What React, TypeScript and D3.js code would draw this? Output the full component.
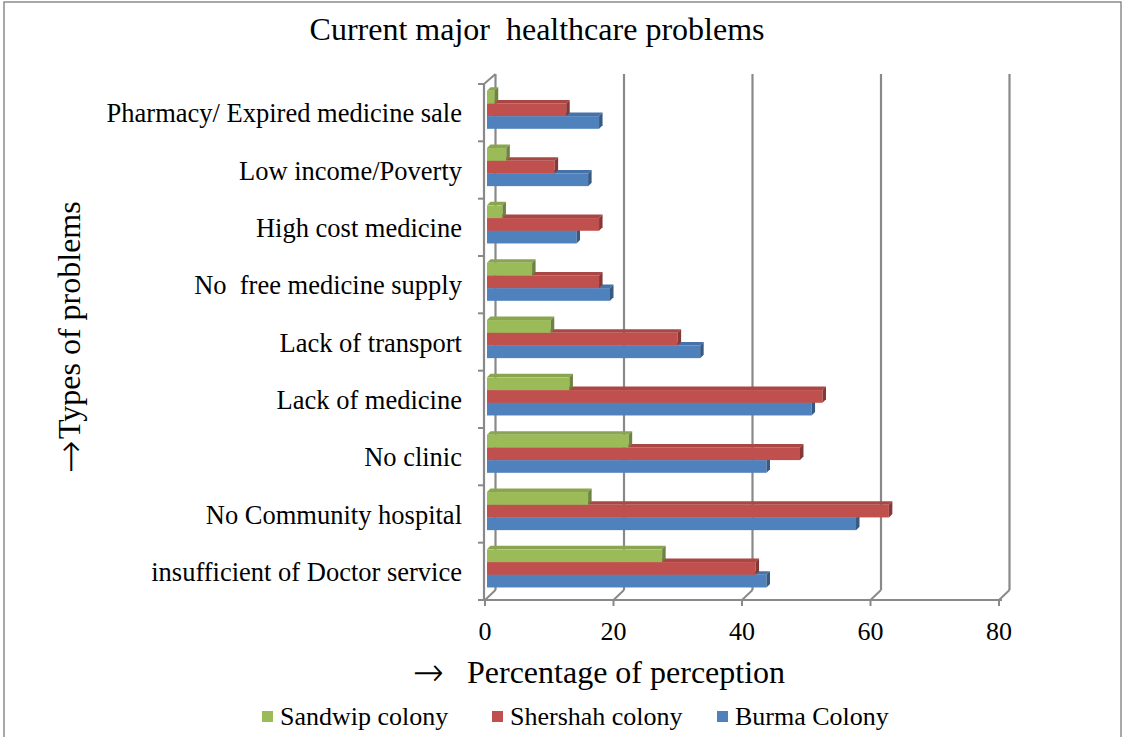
import React from "react";
import * as d3 from "d3";

const categories = [
  "Pharmacy/ Expired medicine sale",
  "Low income/Poverty",
  "High cost medicine",
  "No  free medicine supply",
  "Lack of transport",
  "Lack of medicine",
  "No clinic",
  "No Community hospital",
  "insufficient of Doctor service",
];
const seriesNames = ["Sandwip colony", "Shershah colony", "Burma Colony"];
const sandwip = [1.2, 3.0, 2.4, 7.0, 9.9, 12.8, 22.0, 15.7, 27.2];
const shershah = [12.3, 10.5, 17.4, 17.4, 29.6, 52.1, 48.6, 62.4, 41.7];
const burma = [17.4, 15.7, 13.9, 19.1, 33.1, 50.4, 43.4, 57.3, 43.4];
const seriesColors = ["#9BBB59", "#C0504D", "#4F81BD"];
const xTicks = [0, 20, 40, 60, 80];

const FONT = "'Liberation Serif', 'Times New Roman', serif";
const ARROW_FONT = "'DejaVu Sans', sans-serif";

export default function App() {
  const series = [sandwip, shershah, burma];
  const top = 84;
  const bottom = 600;
  const depthX = 10.5;
  const depthY = 10;
  const xFront = d3.scaleLinear().domain([0, 80]).range([485, 999]);
  const xBar = d3.scaleLinear().domain([0, 80]).range([487, 487 + 80 * 6.44]);
  const y = d3.scaleBand<string>().domain(categories).range([top, bottom]).padding(0);
  const bw = y.bandwidth();
  const barH = 12.7;
  const groupOff = 6.7;
  const d = 3.5;
  const grid = "#898989";

  const bars: React.ReactNode[] = [];
  categories.forEach((c, ci) => {
    const band = y(c) as number;
    for (let si = series.length - 1; si >= 0; si--) {
      const v = series[si][ci];
      const y0 = band + groupOff + si * barH;
      const x0 = xBar(0);
      const x1 = xBar(v);
      const col = d3.color(seriesColors[si])!;
      const topCol = col.darker(0.35).formatHex();
      const sideCol = col.darker(1.0).formatHex();
      bars.push(
        <g key={`${ci}-${si}`}>
          <polygon
            points={`${x0},${y0} ${x0 + d},${y0 - d} ${x1 + d},${y0 - d} ${x1},${y0}`}
            fill={topCol}
          />
          <rect x={x0} y={y0} width={x1 - x0} height={barH} fill={seriesColors[si]} />
          <polygon
            points={`${x1},${y0} ${x1 + d},${y0 - d} ${x1 + d},${y0 + barH - d} ${x1},${y0 + barH}`}
            fill={sideCol}
          />
        </g>
      );
    }
  });

  const legendX = [262, 492, 717];

  return (
    <svg
      width={1126}
      height={737}
      style={{ position: "absolute", left: 0, top: 0, background: "#fff" }}
    >
      <rect x={4} y={2} width={1117} height={745} fill="#fff" stroke="#8c8c8c" strokeWidth={1.5} />
      <text
        x={537}
        y={40}
        textAnchor="middle"
        fontFamily={FONT}
        fontSize={32}
        style={{ whiteSpace: "pre" }}
      >
        {"Current major  healthcare problems"}
      </text>

      {xTicks.map((t) => (
        <g key={t}>
          <line
            x1={xFront(t) + depthX}
            x2={xFront(t) + depthX}
            y1={top - depthY}
            y2={bottom - depthY}
            stroke={grid}
            strokeWidth={2.2}
          />
          <line
            x1={xFront(t)}
            y1={bottom}
            x2={xFront(t) + depthX}
            y2={bottom - depthY}
            stroke={grid}
            strokeWidth={2}
          />
          <line x1={xFront(t)} x2={xFront(t)} y1={bottom} y2={bottom + 6} stroke={grid} strokeWidth={2} />
          <text x={xFront(t)} y={640} textAnchor="middle" fontFamily={FONT} fontSize={26}>
            {t}
          </text>
        </g>
      ))}

      <line x1={xFront(0) - 1} x2={xFront(0) - 1} y1={top} y2={bottom} stroke={grid} strokeWidth={2.2} />
      <line
        x1={xFront(0) - 1}
        y1={top}
        x2={xFront(0) + depthX}
        y2={top - depthY}
        stroke={grid}
        strokeWidth={2}
      />
      <line x1={xFront(0) - 2} x2={xFront(80) + 3} y1={bottom} y2={bottom} stroke={grid} strokeWidth={2.2} />
      {d3.range(categories.length + 1).map((i) => (
        <line
          key={i}
          x1={xFront(0) - 7}
          x2={xFront(0) - 1}
          y1={top + i * bw}
          y2={top + i * bw}
          stroke={grid}
          strokeWidth={2}
        />
      ))}

      {bars}

      {categories.map((c) => (
        <text
          key={c}
          x={462}
          y={(y(c) as number) + bw / 2 + 9.5}
          textAnchor="end"
          fontFamily={FONT}
          fontSize={26.5}
          style={{ whiteSpace: "pre" }}
        >
          {c}
        </text>
      ))}

      <g transform="translate(80, 0) rotate(-90)">
        <text
          x={-473}
          y={4}
          fontFamily={ARROW_FONT}
          fontSize={40}
          fontWeight={200}
          textLength={33}
          lengthAdjust="spacingAndGlyphs"
        >
          {"\u2192"}
        </text>
        <text x={-439} y={0} fontFamily={FONT} fontSize={32}>
          Types of problems
        </text>
      </g>

      <text
        x={413}
        y={686}
        fontFamily={ARROW_FONT}
        fontSize={40}
        fontWeight={200}
        textLength={31}
        lengthAdjust="spacingAndGlyphs"
      >
        {"\u2192"}
      </text>
      <text x={467} y={683} fontFamily={FONT} fontSize={32}>
        Percentage of perception
      </text>

      {seriesNames.map((n, i) => (
        <g key={n}>
          <rect x={legendX[i]} y={711} width={11} height={11} fill={seriesColors[i]} />
          <text x={legendX[i] + 18} y={725} fontFamily={FONT} fontSize={26}>
            {n}
          </text>
        </g>
      ))}
    </svg>
  );
}
